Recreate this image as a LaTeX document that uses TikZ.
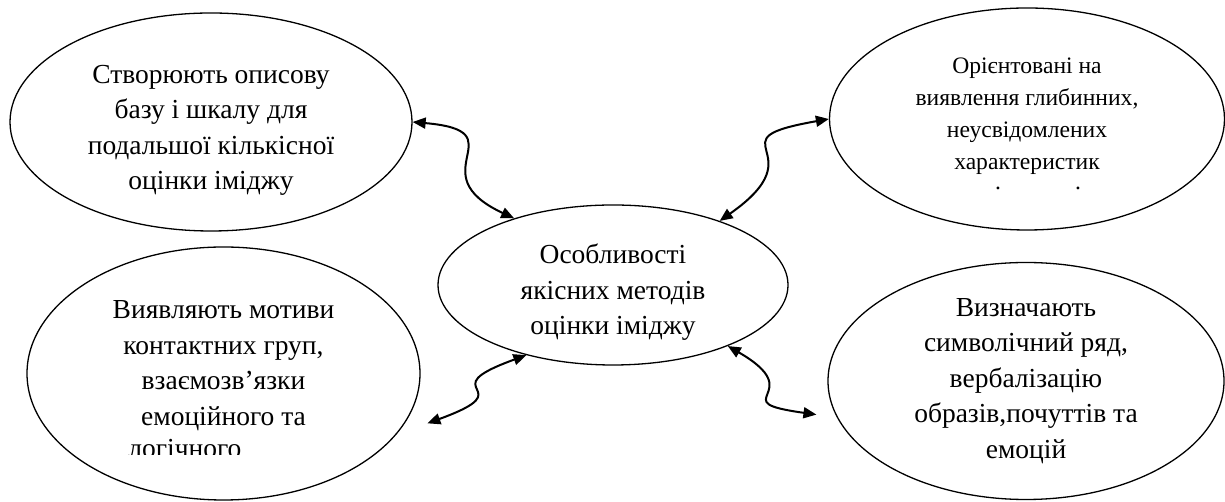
\documentclass[tikz,border=0pt]{standalone}
\usepackage{fontspec}
\setmainfont{Liberation Serif}
\usetikzlibrary{arrows.meta, shapes.geometric}

\begin{document}
\begin{tikzpicture}[
    x=0.5pt, y=0.5pt,
    bubble/.style={
        draw,
        ellipse,
        line width=0.65pt,
        inner sep=0pt,
        align=center,
        font=\fontsize{13.75pt}{17.75pt}\selectfont
    },
    small/.style={font=\fontsize{11.8pt}{16pt}\selectfont},
    link/.style={{Triangle[length=6.5pt,width=5.5pt]}-{Triangle[length=6.5pt,width=5.5pt]}, line width=1pt}
]
\useasboundingbox (0,0) rectangle (1225,502);

% ------------------------
% Central ellipse
% ------------------------
\node[bubble, minimum width=175pt, minimum height=80pt] (core) at (613,217) {
\rule{0pt}{17.4pt}Особливості\\
якісних методів\\
оцінки іміджу
};

% ------------------------
% Upper ellipses
% ------------------------
\node[bubble, minimum width=201pt, minimum height=109pt] (tl) at (211,380) {
\rule{0pt}{17.3pt}Створюють описову\\
базу і шкалу для\\
подальшої кількісної\\
оцінки іміджу
};

\node[bubble, small, minimum width=197.5pt, minimum height=111pt] (tr) at (1027,383) {
Орієнтовані на\\
виявлення глибинних,\\
неусвідомлених\\
характеристик\rule[-5.6pt]{0pt}{0pt}
};
\node[small, anchor=base, inner sep=0pt] (trtail) at (1038,312) {.\hspace{37pt}.};

% ------------------------
% Lower ellipses
% ------------------------
\node[bubble, minimum width=196.5pt, minimum height=126.5pt] (bl) at (223.5,128.5) {
Виявляють мотиви\\
контактних груп,\\
взаємозв’язки\\
емоційного та\rule[-10.4pt]{0pt}{0pt}
};
\begin{scope}
\clip (100,47) rectangle (400,80);
\node[anchor=base west, inner sep=0pt, font=\fontsize{13.75pt}{17.75pt}\selectfont] (bltail) at (128,44) {логічного};
\end{scope}

\node[bubble, minimum width=198pt, minimum height=118.5pt] (br) at (1026,121) {
Визначають\\
символічний ряд,\\
вербалізацію\\
образів,почуттів та\\
емоцій
};

% ------------------------
% Arrows
% ------------------------
\coordinate (blgap) at ([xshift=10pt,yshift=-2pt]bl.-14);
\coordinate (brgap) at ([xshift=-9.5pt]br.190);

\draw[link] (tl.east) to[out=-5, in=155, distance=54pt] (core.146);
\draw[link] (core.31) to[out=35, in=190, distance=61.5pt] (tr.west);
\draw[link] (blgap) to[out=20, in=200, distance=53pt] (core.219);
\draw[link] (core.-28) to[out=-30, in=172, distance=48.5pt] (brgap);

\end{tikzpicture}
\end{document}
